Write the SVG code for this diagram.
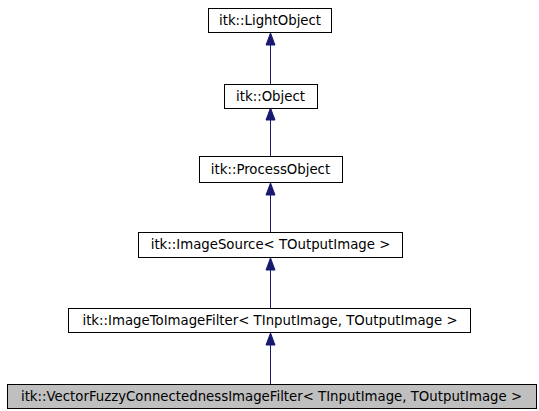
<svg xmlns="http://www.w3.org/2000/svg" width="539" height="411" viewBox="0 0 539 411">
<style>
.n rect{fill:#ffffff;stroke:#000000;stroke-width:1}
.n.cur rect{fill:#bfbfbf}
.n text{font-family:"DejaVu Sans",sans-serif;font-size:13.3px;fill:#000000;text-anchor:middle}
.e line{stroke:#191970;stroke-width:1}
.e polygon{fill:#191970;stroke:#191970}
</style>
<rect width="539" height="411" fill="#ffffff"/>
<g id="connectors" class="e">
<line x1="270.5" y1="84" x2="270.5" y2="44"/><polygon points="270.5,33 266,45 275,45"/>
<line x1="270.5" y1="156" x2="270.5" y2="120"/><polygon points="270.5,108 266,120 275,120"/>
<line x1="270.5" y1="232" x2="270.5" y2="194"/><polygon points="270.5,183 266,195 275,195"/>
<line x1="270.5" y1="308" x2="270.5" y2="270"/><polygon points="270.5,258 266,270 275,270"/>
<line x1="270.5" y1="384" x2="270.5" y2="344"/><polygon points="270.5,333 266,345 275,345"/>
</g>
<g id="n_lightobject" class="n"><rect x="208.5" y="8.5" width="123" height="24"/><text x="270" y="25">itk::LightObject</text></g>
<g id="n_object" class="n"><rect x="224.5" y="84.5" width="93" height="24"/><text x="270.5" y="101">itk::Object</text></g>
<g id="n_processobject" class="n"><rect x="199.5" y="156.5" width="143" height="26"/><text x="270.5" y="174">itk::ProcessObject</text></g>
<g id="n_imagesource" class="n"><rect x="138.5" y="232.5" width="264" height="25"/><text x="270.5" y="249">itk::ImageSource&lt; TOutputImage &gt;</text></g>
<g id="n_imagetoimagefilter" class="n"><rect x="68.5" y="308.5" width="402" height="24"/><text x="270" y="325">itk::ImageToImageFilter&lt; TInputImage, TOutputImage &gt;</text></g>
<g id="n_vectorfuzzy" class="n cur"><rect x="7.5" y="384.5" width="529" height="24"/><text x="271.5" y="401">itk::VectorFuzzyConnectednessImageFilter&lt; TInputImage, TOutputImage &gt;</text></g>
</svg>
